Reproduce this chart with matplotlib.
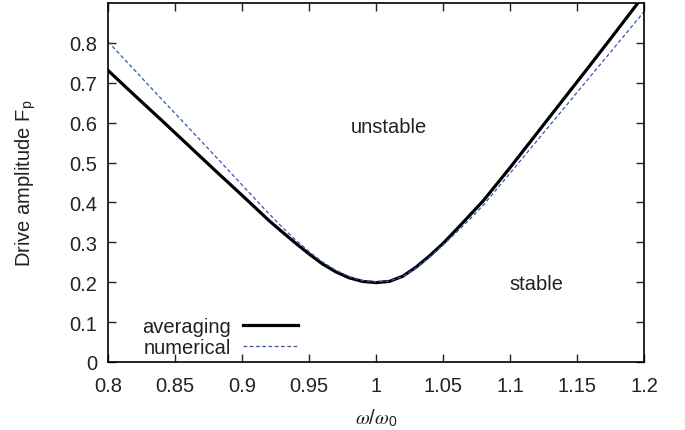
import numpy as np
import matplotlib
matplotlib.use("Agg")
import matplotlib.pyplot as plt

# --------------------------
# DATA
# --------------------------

omega_avg = [0.80, 0.82, 0.84, 0.86, 0.88, 0.90, 0.92, 0.93, 0.94, 0.95,
             0.96, 0.97, 0.98, 0.99, 1.00, 1.01, 1.02, 1.03, 1.04, 1.05,
             1.06, 1.07, 1.08, 1.10, 1.12, 1.14, 1.16, 1.18, 1.20]
F_avg = [0.731, 0.668, 0.606, 0.543, 0.480, 0.418, 0.355, 0.326, 0.298, 0.271,
         0.246, 0.226, 0.211, 0.202, 0.199, 0.202, 0.215, 0.238, 0.266, 0.297,
         0.332, 0.368, 0.404, 0.487, 0.573, 0.659, 0.745, 0.832, 0.920]

omega_num = [0.80, 0.82, 0.84, 0.86, 0.88, 0.90, 0.92, 0.93, 0.94, 0.95,
             0.96, 0.97, 0.98, 0.99, 1.00, 1.01, 1.02, 1.03, 1.04, 1.05,
             1.06, 1.07, 1.08, 1.10, 1.12, 1.14, 1.16, 1.18, 1.20]
F_num = [0.803, 0.731, 0.659, 0.588, 0.516, 0.444, 0.372, 0.338, 0.306, 0.277,
         0.251, 0.230, 0.214, 0.204, 0.201, 0.203, 0.214, 0.236, 0.263, 0.293,
         0.325, 0.358, 0.393, 0.473, 0.554, 0.635, 0.716, 0.797, 0.878]

xticks = [0.8, 0.85, 0.9, 0.95, 1.0, 1.05, 1.1, 1.15, 1.2]
xticklabels = ["0.8", "0.85", "0.9", "0.95", "1", "1.05", "1.1", "1.15", "1.2"]
yticks = [0, 0.1, 0.2, 0.3, 0.4, 0.5, 0.6, 0.7, 0.8]
yticklabels = ["0", "0.1", "0.2", "0.3", "0.4", "0.5", "0.6", "0.7", "0.8"]

# --------------------------
# FIGURE
# --------------------------

plt.rcParams["font.family"] = ["Liberation Sans", "DejaVu Sans"]
plt.rcParams["mathtext.fontset"] = "stix"
FS = 14.5
TXT = "#222222"

fig = plt.figure(figsize=(6.85, 4.31), dpi=100)
ax = fig.add_axes([0.1577, 0.1578, 0.9401 - 0.1577, 0.9907 - 0.1578])

ax.plot(omega_avg, F_avg, color="black", lw=2.3, label="averaging",
        solid_joinstyle="round")
ax.plot(omega_num, F_num, color="#3355bb", lw=0.9, dashes=(3, 2), label="numerical")

ax.set_xlim(0.8, 1.2)
ax.set_ylim(0, 0.9)
ax.set_xticks(xticks)
ax.set_xticklabels(xticklabels)
ax.set_yticks(yticks)
ax.set_yticklabels(yticklabels)
ax.tick_params(axis="both", direction="in", length=6, width=1, top=True, right=True,
               labelsize=FS, colors=TXT)
ax.tick_params(axis="x", pad=10)
ax.tick_params(axis="y", pad=8)
for s in ax.spines.values():
    s.set_linewidth(1.2)

ax.set_xlabel(r"$\omega$/$\omega_\mathregular{0}$", fontsize=FS, color=TXT, labelpad=8)
ax.set_ylabel(r"Drive amplitude F$_\mathregular{p}$", fontsize=FS, color=TXT, labelpad=22)

ax.text(1.0097, 0.59, "unstable", fontsize=FS, color=TXT, ha="center", va="center")
ax.text(1.120, 0.1975, "stable", fontsize=FS, color=TXT, ha="center", va="center")

leg = ax.legend(loc="lower left", bbox_to_anchor=(0.055, 0.0), frameon=False,
                markerfirst=False, fontsize=FS, handlelength=2.7,
                handletextpad=0.6, labelspacing=0.1, borderaxespad=0.0,
                borderpad=0.25)
for t in leg.get_texts():
    t.set_color(TXT)

fig.savefig("out.png", dpi=100)
